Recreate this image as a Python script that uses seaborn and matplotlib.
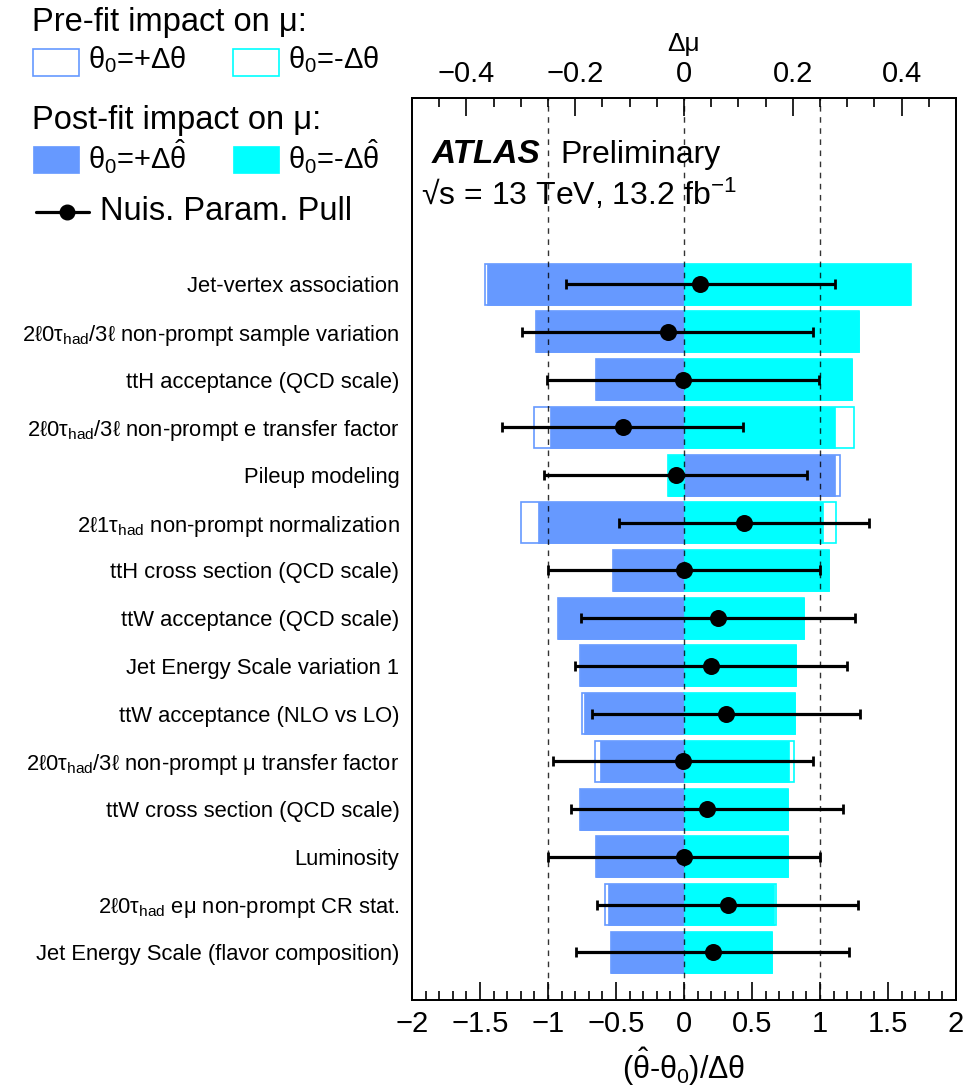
import matplotlib
matplotlib.use('Agg')
import numpy as np
import pandas as pd
import matplotlib.pyplot as plt
from matplotlib.patches import Rectangle
from matplotlib.lines import Line2D
from matplotlib.ticker import MultipleLocator, FuncFormatter
import seaborn as sns

sns.set_style('white')
plt.rcParams['font.family'] = ['Liberation Sans', 'DejaVu Sans']
plt.rcParams['mathtext.fontset'] = 'custom'
plt.rcParams['mathtext.rm'] = 'Liberation Sans'
plt.rcParams['mathtext.it'] = 'Liberation Sans'
plt.rcParams['mathtext.bf'] = 'Liberation Sans:bold'
plt.rcParams['axes.unicode_minus'] = True
for k in ('text.color', 'axes.labelcolor', 'xtick.color', 'ytick.color'):
    plt.rcParams[k] = 'black'

# nuisance parameters, top to bottom
labels = [
    'Jet-vertex association',
    r'2ℓ0τ$_{\mathrm{had}}$/3ℓ non-prompt sample variation',
    'ttH acceptance (QCD scale)',
    r'2ℓ0τ$_{\mathrm{had}}$/3ℓ non-prompt e transfer factor',
    'Pileup modeling',
    r'2ℓ1τ$_{\mathrm{had}}$ non-prompt normalization',
    'ttH cross section (QCD scale)',
    'ttW acceptance (QCD scale)',
    'Jet Energy Scale variation 1',
    'ttW acceptance (NLO vs LO)',
    r'2ℓ0τ$_{\mathrm{had}}$/3ℓ non-prompt μ transfer factor',
    'ttW cross section (QCD scale)',
    'Luminosity',
    r'2ℓ0τ$_{\mathrm{had}}$ eμ non-prompt CR stat.',
    'Jet Energy Scale (flavor composition)',
]
# pulls (theta_hat - theta_0)/dtheta and their errors
pull     = [0.12, -0.12, -0.01, -0.45, -0.06, 0.44, 0.00, 0.25, 0.20, 0.31, -0.01, 0.17, 0.00, 0.32, 0.21]
pull_err = [0.99, 1.07, 1.00, 0.885, 0.967, 0.92, 1.00, 1.01, 1.00, 0.985, 0.955, 1.00, 1.00, 0.96, 1.005]
# impact on mu (delta mu)
post_up   = [-0.363, -0.272, -0.162, -0.246, 0.278, -0.269, -0.130, -0.231, -0.192, -0.184, -0.155, -0.192, -0.161, -0.139, -0.135]
post_down = [0.416, 0.321, 0.308, 0.277, -0.030, 0.255, 0.266, 0.220, 0.206, 0.204, 0.193, 0.191, 0.191, 0.165, 0.162]
pre_up    = [-0.366, -0.272, -0.162, -0.276, 0.287, -0.300, -0.130, -0.231, -0.192, -0.188, -0.164, -0.192, -0.161, -0.146, -0.135]
pre_down  = [0.417, 0.321, 0.308, 0.312, -0.030, 0.279, 0.266, 0.220, 0.206, 0.204, 0.202, 0.191, 0.191, 0.170, 0.162]

blue = '#6699FF'
cyan = '#00FFFF'

n = len(labels)
ypos = np.arange(n)[::-1].astype(float)
df = pd.DataFrame({'y': ypos, 'pull': pull, 'err': pull_err,
                   'post_up': post_up, 'post_down': post_down,
                   'pre_up': pre_up, 'pre_down': pre_down})

fig = plt.figure(figsize=(9.65, 10.88), dpi=100)
ax = fig.add_axes([412 / 965, 1 - 1000 / 1088, 544 / 965, 902 / 1088])
ax_mu = ax.twiny()

# impact bars on the delta-mu axis
bw = 0.86
for col, c in [('pre_up', blue), ('pre_down', cyan)]:
    sns.barplot(data=df, x=col, y='y', orient='h', native_scale=True, width=bw,
                color='white', saturation=1, edgecolor=c, linewidth=1.2,
                errorbar=None, ax=ax_mu)
for col, c in [('post_up', blue), ('post_down', cyan)]:
    sns.barplot(data=df, x=col, y='y', orient='h', native_scale=True, width=bw,
                color=c, saturation=1, edgecolor=c, linewidth=0.5,
                errorbar=None, ax=ax_mu)
fmt = FuncFormatter(lambda v, p: f'{v:g}'.replace('-', '\u2212'))
ax_mu.set_xlim(-0.5, 0.5)
ax_mu.set_xlabel('Δμ', fontsize=19, labelpad=7)
ax_mu.set_ylabel('')
ax_mu.xaxis.set_major_locator(MultipleLocator(0.2))
ax_mu.xaxis.set_minor_locator(MultipleLocator(0.05))
ax_mu.xaxis.set_major_formatter(fmt)
ax_mu.tick_params(axis='x', which='major', direction='in', length=13, width=1.2, labelsize=21, pad=7)
ax_mu.tick_params(axis='x', which='minor', direction='in', length=6.5, width=1.2)

# pulls on top
ax.set_zorder(ax_mu.get_zorder() + 1)
ax.patch.set_visible(False)
for v in (-1, 0, 1):
    ax.axvline(v, color='black', ls=(0, (4, 4)), lw=1, alpha=0.8, zorder=1)
ax.errorbar(df['pull'], df['y'], xerr=df['err'], fmt='none', ecolor='black',
            elinewidth=2.3, capsize=3.5, capthick=2, zorder=3)
sns.scatterplot(data=df, x='pull', y='y', color='black', s=150, edgecolor='black',
                linewidth=0, zorder=4, ax=ax)
ax.set_xlim(-2, 2)
ax.set_ylim(-1, 17.9)
ax.set_xlabel(r'($\hat{\theta}$-$\theta_{0}$)/$\Delta\theta$', fontsize=22, labelpad=6)
ax.set_ylabel('')
ax.set_yticks(ypos)
ax.set_yticklabels(labels, fontsize=15.8)
ax.tick_params(axis='y', length=0, pad=9)
ax.xaxis.set_major_locator(MultipleLocator(0.5))
ax.xaxis.set_minor_locator(MultipleLocator(0.1))
ax.xaxis.set_major_formatter(fmt)
ax.tick_params(axis='x', which='major', direction='in', length=13, width=1.2, labelsize=21, pad=7, bottom=True, top=False)
ax.tick_params(axis='x', which='minor', direction='in', length=6.5, width=1.2, bottom=True, top=False)
for a in (ax, ax_mu):
    for s in a.spines.values():
        s.set_color('black')
        s.set_linewidth(1.3)
        s.set_visible(True)

ax.text(0.037, 0.937, 'ATLAS', transform=ax.transAxes, fontsize=24,
        fontweight='bold', fontstyle='italic', va='center')
ax.text(0.272, 0.937, 'Preliminary', transform=ax.transAxes, fontsize=23, va='center')
ax.text(0.016, 0.893, r'√s = 13 TeV, 13.2 fb$^{-1}$', transform=ax.transAxes,
        fontsize=23, va='center')

# legend (figure pixel coords)
W, H = 965, 1088
def fx(x): return x / W
def fy(y): return 1 - y / H

fig.text(fx(32), fy(22), 'Pre-fit impact on μ:', fontsize=23.5, va='center')
fig.text(fx(32), fy(120), 'Post-fit impact on μ:', fontsize=23.5, va='center')
for x0, c, txt in [(33, blue, r'$\theta_{0}$=+Δθ'), (233, cyan, r'$\theta_{0}$=-Δθ')]:
    fig.patches.append(Rectangle((fx(x0), fy(76)), 46 / W, 27 / H, transform=fig.transFigure,
                                 facecolor='white', edgecolor=c, lw=1.2))
    fig.text(fx(x0 + 55), fy(60), txt, fontsize=21, va='center')
for x0, c, txt in [(33, blue, r'$\theta_{0}$=+Δ$\hat{\theta}$'), (233, cyan, r'$\theta_{0}$=-Δ$\hat{\theta}$')]:
    fig.patches.append(Rectangle((fx(x0), fy(173)), 46 / W, 27 / H, transform=fig.transFigure,
                                 facecolor=c, edgecolor=c, lw=0.5))
    fig.text(fx(x0 + 55), fy(157), txt, fontsize=21, va='center')
fig.lines.append(Line2D([fx(36), fx(89)], [fy(212), fy(212)], transform=fig.transFigure,
                        color='black', lw=2.3))
fig.lines.append(Line2D([fx(67)], [fy(212)], transform=fig.transFigure,
                        color='black', marker='o', ms=10.5, lw=0))
fig.text(fx(100), fy(212), 'Nuis. Param. Pull', fontsize=23.5, va='center')

fig.savefig('out.png', dpi=100)
